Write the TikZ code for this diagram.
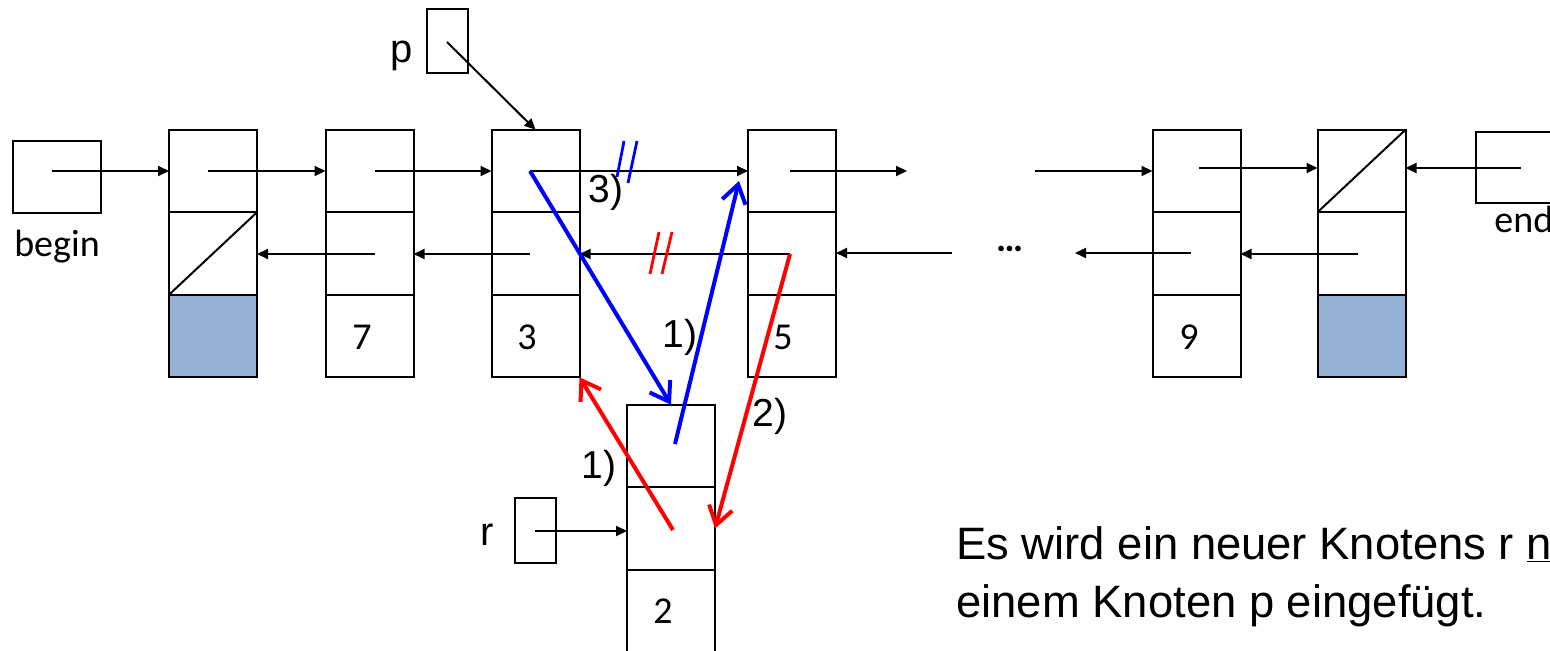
\documentclass[tikz,border=0pt]{standalone}
\usepackage{fontspec}
\setmainfont{Liberation Sans}
\newfontfamily\carlito[Numbers=Lining]{Carlito}
\usetikzlibrary{arrows.meta,positioning}
\definecolor{datafill}{RGB}{149,179,215}
\tikzset{
	cell/.style={draw,line width=1pt,minimum width=44pt,minimum height=41.25pt,inner sep=0pt,outer sep=0pt},
	ptrbox/.style={draw,line width=1pt,inner sep=0pt,outer sep=0pt},
	ptr/.style={line width=1pt,-{Triangle[length=5.5pt,width=5pt]}},
	cptr/.style={line width=2pt,-{Straight Barb[length=9pt,width=12pt]}},
	cut/.style={line width=1.4pt},
	num/.style={font=\carlito\fontsize{19}{22}\selectfont,inner sep=0pt,anchor=base},
	step lbl/.style={font=\fontsize{19.5}{23}\selectfont,inner sep=0pt,anchor=base}
}
\begin{document}
\begin{tikzpicture}[x=0.5pt,y=-0.5pt]
				\useasboundingbox (0,0) rectangle (1550,651);
				\clip (0,0) rectangle (1550,651);
				%\draw[color=gray,step=10, help lines,opacity=0.3] (0,0) grid (1550,651); %help grids

				% list nodes
				\node[cell] (n1a) at (213,171) {};
				\node[cell,below=0pt of n1a] (n1b) {};
				\node[cell,below=0pt of n1b,fill=datafill] (n1c) {};
				\node[cell] (n2a) at (369.5,171) {};
				\node[cell,below=0pt of n2a] (n2b) {};
				\node[cell,below=0pt of n2b] (n2c) {};
				\node[cell] (n3a) at (535.5,171) {};
				\node[cell,below=0pt of n3a] (n3b) {};
				\node[cell,below=0pt of n3b] (n3c) {};
				\node[cell] (n4a) at (792,171) {};
				\node[cell,below=0pt of n4a] (n4b) {};
				\node[cell,below=0pt of n4b] (n4c) {};
				\node[cell] (n5a) at (1196.5,171) {};
				\node[cell,below=0pt of n5a] (n5b) {};
				\node[cell,below=0pt of n5b] (n5c) {};
				\node[cell] (n6a) at (1361.5,171) {};
				\node[cell,below=0pt of n6a] (n6b) {};
				\node[cell,below=0pt of n6b,fill=datafill] (n6c) {};
				\node[cell] (ra) at (671,446) {};
				\node[cell,below=0pt of ra] (rb) {};
				\node[cell,below=0pt of rb] (rc) {};
				\draw[line width=1pt] (n1b.south west)--(n1b.north east);
				\draw[line width=1pt] (n6a.south west)--(n6a.north east);

				% values
				\node[num] (v7) at (362,350) {7};
				\node[num] (v3) at (527,350) {3};
				\node[num] (v5) at (783,350) {5};
				\node[num] (v9) at (1189,350) {9};
				\node[num] (v2) at (663,623) {2};

				% pointer variables
				\node[ptrbox,minimum width=44pt,minimum height=36pt] (bgbox) at (57,177) {};
				\node[num] (bglbl) at (57,257) {begin};
				\node[ptrbox,minimum width=44pt,minimum height=35.5pt] (endbox) at (1520,167.5) {};
				\node[num,anchor=base west] (endlbl) at (1494,233) {end};
				\node[ptrbox,minimum width=20.5pt,minimum height=32pt] (pbox) at (447.5,41) {};
				\node[step lbl,font=\fontsize{20}{24}\selectfont] (plbl) at (402,63) {p};
				\node[ptrbox,minimum width=20.5pt,minimum height=32.5pt] (rbox) at (535.5,530.5) {};
				\node[step lbl,font=\fontsize{20}{24}\selectfont] (rlbl) at (487,545) {r};

				% next pointers
				\coordinate (bgp) at (52,171);
				\coordinate (n1n) at (208,171);
				\coordinate (n2n) at (375,171);
				\coordinate (n3n) at (530,171);
				\coordinate (n4n) at (790,171);
				\coordinate (g1) at (907,171);
				\coordinate (g2) at (1035,171);
				\coordinate (n5n) at (1199,168);
				\coordinate (endp) at (1521,168);
				\draw[ptr] (bgp)--(bgp -| n1a.west);
				\draw[ptr] (n1n)--(n1n -| n2a.west);
				\draw[ptr] (n2n)--(n2n -| n3a.west);
				\draw[ptr] (n3n)--(n3n -| n4a.west);
				\draw[ptr] (n4n)--(g1);
				\draw[ptr] (g2)--(g2 -| n5a.west);
				\draw[ptr] (n5n)--(n5n -| n6a.west);
				\draw[ptr] (endp)--(endp -| n6a.east);

				% prev pointers
				\coordinate (n2p) at (375,254);
				\coordinate (n3p) at (530,254);
				\coordinate (n4p) at (790,254);
				\coordinate (g3) at (952,253);
				\coordinate (g4) at (1075,253);
				\coordinate (n5p) at (1191,253);
				\coordinate (n6p) at (1358,254);
				\draw[ptr] (n2p)--(n2p -| n1b.east);
				\draw[ptr] (n3p)--(n3p -| n2b.east);
				\draw[ptr] (n4p)--(n4p -| n3b.east);
				\draw[ptr] (g3)--(g3 -| n4b.east);
				\draw[ptr] (n5p)--(g4);
				\draw[ptr] (n6p)--(n6p -| n5b.east);
				\node[font=\carlito\bfseries\fontsize{19}{22}\selectfont,inner sep=0pt,anchor=base] (dots) at (1010,252) {…};

				% p and r
				\coordinate (pp) at (447,42);
				\coordinate (rp) at (535,531);
				\draw[ptr] (pp)--(n3a.north);
				\draw[ptr] (rp)--(rp -| rb.west);

				% new links
				\coordinate (rn) at (675,444);
				\coordinate (rv) at (673,530);
				\coordinate (n4in) at (739,181);
				\draw[cptr,blue] (n3n)--(ra.north);
				\draw[cptr,blue] (rn)--(n4in);
				\draw[cptr,red] (rv)--(n3c.south east);
				\draw[cptr,red] (n4p)--(rb.east);
				\draw[cut,blue] (624,141)--(617,177);
				\draw[cut,blue] (637,141)--(628,183);
				\draw[cut,red] (659,232)--(650,274);
				\draw[cut,red] (672,232)--(662,274);
				\node[step lbl] (s3) at (606,203) {3)};
				\node[step lbl] (s1b) at (680,348) {1)};
				\node[step lbl] (s1r) at (599,478) {1)};
				\node[step lbl] (s2) at (770,426) {2)};

				% text
				\node[inner sep=0pt,anchor=base west,font=\fontsize{22.7}{29}\selectfont] (txt1) at (956,559) {Es wird ein neuer Knotens r \underline{n}};
				\node[inner sep=0pt,anchor=base west,font=\fontsize{22.7}{29}\selectfont] (txt2) at (956,617) {einem Knoten p eingefügt.};
\end{tikzpicture}
\end{document}
